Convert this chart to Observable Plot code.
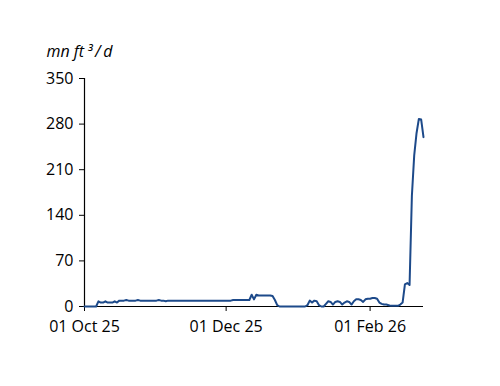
<!DOCTYPE html>
<html>
<head>
<meta charset="utf-8">
<script src="https://cdn.jsdelivr.net/npm/d3@7"></script>
<script src="https://cdn.jsdelivr.net/npm/@observablehq/plot@0.6"></script>
<style>
  html, body { margin: 0; padding: 0; background: #fff; }
  #chart { width: 500px; height: 386px; }
</style>
</head>
<body>
<div id="chart"></div>
<script>
// Daily values (mn ft³/d) starting 01 Oct 2025
const startDate = [2025, 9, 1];
const values = [
  0,0,0,0,0,0,
  8,6,6,8,6,6,6,8,6,9,
  9,9,10,9,9,9,9,10,9,9,9,9,9,9,9,9,10,9,9,8,9,9,9,9,9,9,9,9,9,9,9,9,9,9,9,9,9,9,9,9,9,9,9,9,9,9,9,9,
  10,10,10,10,10,10,10,10,
  18,11,18,17,17,17,17,17,17,16,10,2,
  0,0,0,0,0,0,0,0,0,0,0,0,
  2,9,6,9,8,2,0,0,4,8,7,3,7,8,7,3,6,8,7,3,8,11,11,10,7,11,12,12,13,13,12,6,4,3,3,2,1,1,1,1,3,6,34,36,33,170,232,266,288,287,260
];
const xTickDates = [[2025, 9, 1], [2025, 11, 1], [2026, 1, 1]];
const yTicks = [0, 70, 140, 210, 280, 350];
const yDomain = [0, 350];
const unitLabel = "mn ft\u2009³\u2009/\u2009d";

const data = values.map((v, i) => ({
  date: new Date(Date.UTC(startDate[0], startDate[1], startDate[2] + i)),
  value: v
}));
const xTicks = xTickDates.map(d => new Date(Date.UTC(d[0], d[1], d[2])));
const xDomain = [data[0].date, data[data.length - 1].date];
const color = "#1d4a8a";

const chart = Plot.plot({
  width: 500,
  height: 386,
  marginLeft: 84,
  marginRight: 77,
  marginTop: 78,
  marginBottom: 80,
  style: { fontFamily: "'Open Sans', sans-serif", fontSize: "16px", color: "#000", background: "#fff" },
  x: { type: "utc", domain: xDomain },
  y: { domain: yDomain },
  marks: [
    Plot.axisY({ ticks: yTicks, tickSize: 5, tickPadding: 6, label: null, tickFormat: d => String(d) }),
    Plot.axisX({ ticks: xTicks, tickSize: 5, tickPadding: 9, label: null, tickFormat: d3.utcFormat("%d %b %y") }),
    Plot.ruleX([xDomain[0]], { y1: yDomain[0], y2: yDomain[1], stroke: "#000", strokeWidth: 1.2 }),
    Plot.ruleY([0], { stroke: "#000", strokeWidth: 1.2 }),
    Plot.lineY(data, { x: "date", y: "value", stroke: color, strokeWidth: 2, curve: "linear" }),
    Plot.text([unitLabel], { frameAnchor: "top-left", dx: -38, dy: -27, text: d => d, fontStyle: "italic", fontSize: 16, textAnchor: "start", lineAnchor: "middle" })
  ]
});
document.getElementById("chart").appendChild(chart);
</script>
</body>
</html>
